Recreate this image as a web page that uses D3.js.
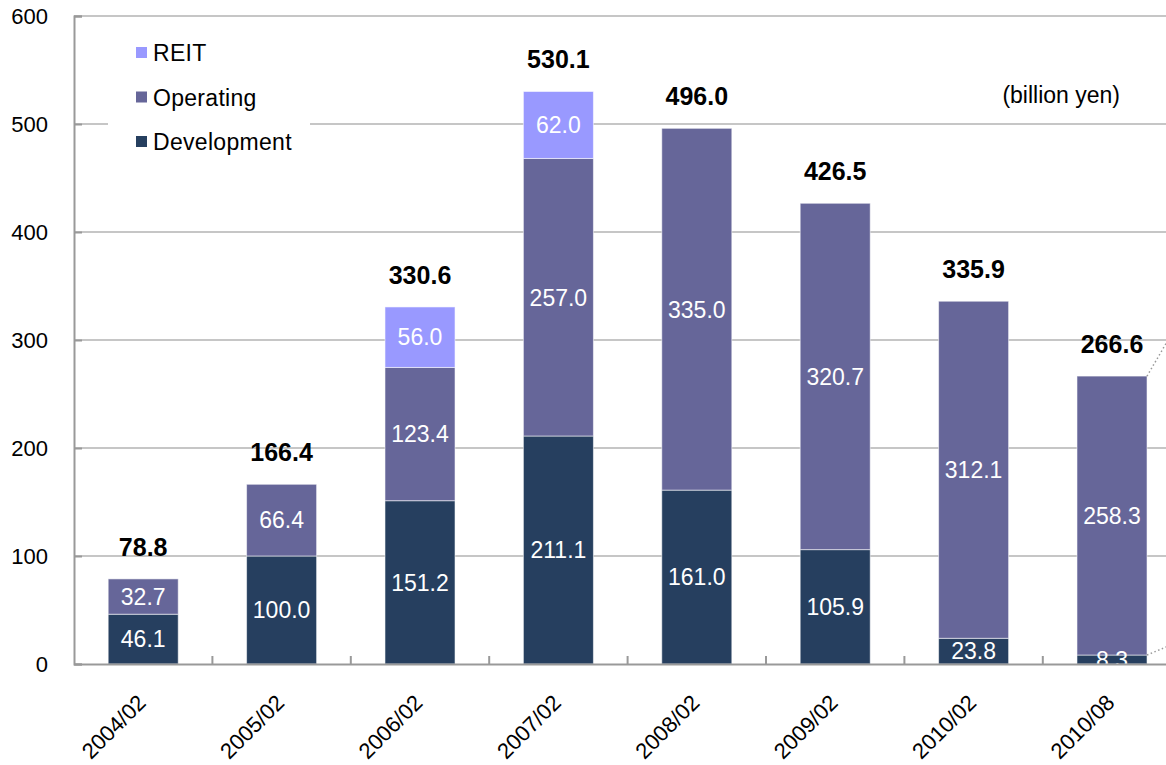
<!DOCTYPE html>
<html>
<head>
<meta charset="utf-8">
<script src="https://cdn.jsdelivr.net/npm/d3@7"></script>
<style>
  html, body { margin: 0; padding: 0; background: #fff; overflow: hidden; }
  svg { display: block; font-family: "Liberation Sans", Arial, sans-serif; }
</style>
</head>
<body>
<svg id="chart" width="1166" height="765"></svg>
<script>
// Balance of real estate for sale, by category (billion yen)
const periods = ["2004/02", "2005/02", "2006/02", "2007/02", "2008/02", "2009/02", "2010/02", "2010/08"];
const development = [46.1, 100.0, 151.2, 211.1, 161.0, 105.9, 23.8, 8.3];
const operating = [32.7, 66.4, 123.4, 257.0, 335.0, 320.7, 312.1, 258.3];
const reit = [0, 0, 56.0, 62.0, 0, 0, 0, 0];
const totals = [78.8, 166.4, 330.6, 530.1, 496.0, 426.5, 335.9, 266.6];
const yTicks = [0, 100, 200, 300, 400, 500, 600];
// Series-line targets for the following period (beyond the right edge)
const nextDevelopment = 35;
const nextTotal = 375;

const seriesKeys = ["Development", "Operating", "REIT"];
const seriesColors = { Development: "#263F5F", Operating: "#666699", REIT: "#9999FF" };
const legendOrder = ["REIT", "Operating", "Development"];

const rows = periods.map((p, i) => ({
  period: p, Development: development[i], Operating: operating[i], REIT: reit[i]
}));

const svg = d3.select("#chart");
const plotLeft = 74, plotBottom = 664, plotTop = 16;
const band = 138.4;

const x = d3.scaleBand().domain(periods)
  .range([plotLeft, plotLeft + band * periods.length])
  .paddingInner(0.494).paddingOuter(0.247);
const y = d3.scaleLinear().domain([0, 600]).range([plotBottom, plotTop]);

// gridlines
svg.append("g").selectAll("line").data(yTicks.filter(t => t > 0)).join("line")
  .attr("x1", plotLeft).attr("x2", 1166)
  .attr("y1", d => y(d)).attr("y2", d => y(d))
  .attr("stroke", "#c6c6c6").attr("stroke-width", 2);

// stacked bars
const stack = d3.stack().keys(seriesKeys)(rows);
const layers = svg.append("g").selectAll("g").data(stack).join("g")
  .attr("fill", d => seriesColors[d.key]);
layers.selectAll("rect").data(d => d.filter(s => s[1] - s[0] > 0)).join("rect")
  .attr("x", d => x(d.data.period))
  .attr("width", x.bandwidth())
  .attr("y", d => y(d[1]))
  .attr("height", d => y(d[0]) - y(d[1]))
  .attr("stroke", "rgba(255,255,255,0.55)")
  .attr("stroke-width", 1);

// series lines towards the next period
const lastIdx = periods.length - 1;
const lastP = periods[lastIdx];
const lastRight = x(lastP) + x.bandwidth();
const nextLeft = x(lastP) + band;
const conn = svg.append("g").attr("stroke", "#999").attr("stroke-width", 1.5)
  .attr("stroke-dasharray", "1.5,2.5").attr("fill", "none");
conn.append("line")
  .attr("x1", lastRight).attr("y1", y(development[lastIdx]))
  .attr("x2", nextLeft).attr("y2", y(nextDevelopment));
conn.append("line")
  .attr("x1", lastRight).attr("y1", y(development[lastIdx] + operating[lastIdx]))
  .attr("x2", nextLeft).attr("y2", y(nextTotal));

// segment value labels
stack.forEach(layer => {
  svg.append("g").selectAll("text").data(layer.filter(s => s[1] - s[0] > 0)).join("text")
    .attr("x", d => x(d.data.period) + x.bandwidth() / 2)
    .attr("y", d => (y(d[0]) + y(d[1])) / 2)
    .attr("dy", "0.36em")
    .attr("text-anchor", "middle")
    .attr("fill", "#fff")
    .attr("font-size", 23)
    .text(d => (d[1] - d[0]).toFixed(1));
});

// total labels
svg.append("g").selectAll("text").data(rows).join("text")
  .attr("x", d => x(d.period) + x.bandwidth() / 2)
  .attr("y", d => y(d.Development + d.Operating + d.REIT) - 23)
  .attr("text-anchor", "middle")
  .attr("font-size", 25)
  .attr("font-weight", "bold")
  .attr("fill", "#000")
  .text((d, i) => totals[i].toFixed(1));

// y axis
const yAxis = svg.append("g").attr("transform", `translate(${plotLeft},0)`)
  .call(d3.axisLeft(y).tickValues(yTicks).tickSize(-8).tickPadding(26));
yAxis.select(".domain").attr("stroke", "#999").attr("stroke-width", 2);
yAxis.selectAll(".tick line").attr("stroke", "#999").attr("stroke-width", 2);
yAxis.selectAll(".tick text").attr("font-size", 22).attr("fill", "#000")
  .attr("font-family", "Liberation Sans, Arial, sans-serif");

// x axis
const xAxis = svg.append("g").attr("transform", `translate(0,${plotBottom})`)
  .call(d3.axisBottom(x).tickSize(0).tickPadding(0));
xAxis.select(".domain").attr("stroke", "#999").attr("stroke-width", 2);
xAxis.selectAll(".tick text")
  .attr("font-size", 22).attr("fill", "#000")
  .attr("font-family", "Liberation Sans, Arial, sans-serif")
  .attr("text-anchor", "end")
  .attr("dy", 0)
  .attr("transform", "translate(4,40) rotate(-45)");
// category separators
svg.append("g").selectAll("line").data(periods.slice(1)).join("line")
  .attr("x1", d => x(d) - (band - x.bandwidth()) / 2)
  .attr("x2", d => x(d) - (band - x.bandwidth()) / 2)
  .attr("y1", plotBottom).attr("y2", plotBottom - 8)
  .attr("stroke", "#999").attr("stroke-width", 2);

// legend
const legend = svg.append("g");
legend.append("rect").attr("x", 108).attr("y", 30).attr("width", 202).attr("height", 135).attr("fill", "#fff");
legendOrder.forEach((k, i) => {
  const cy = 53 + i * 44.5;
  legend.append("rect").attr("x", 136).attr("y", cy - 6).attr("width", 11).attr("height", 11)
    .attr("fill", seriesColors[k]);
  legend.append("text").attr("x", 153).attr("y", cy).attr("dy", "0.36em")
    .attr("font-size", 23).attr("letter-spacing", 0.3).attr("fill", "#000").text(k);
});

// unit note
svg.append("text").attr("x", 1120).attr("y", 103).attr("text-anchor", "end")
  .attr("font-size", 23).attr("fill", "#000").text("(billion yen)");
</script>
</body>
</html>
